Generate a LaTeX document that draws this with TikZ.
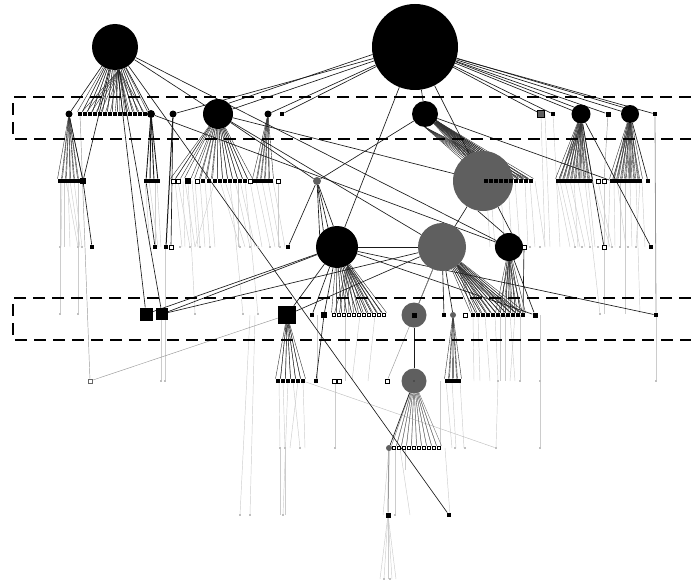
\documentclass[tikz,border=0pt]{standalone}
\pgfdeclarelayer{bg}\pgfdeclarelayer{fg}\pgfsetlayers{bg,main,fg}
\definecolor{ng}{RGB}{95,95,95}
\begin{document}
\begin{tikzpicture}[x=1pt,y=-1pt,
  bc/.style={circle, fill=black, inner sep=0pt, minimum size=#1},
  gc/.style={circle, fill=ng, inner sep=0pt, minimum size=#1},
  sq/.style={rectangle, fill=black, inner sep=0pt, minimum size=#1}, sq/.default=4.5pt,
  osq/.style={rectangle, draw=black, fill=white, line width=0.9pt, inner sep=0pt, minimum size=#1}, osq/.default=4pt,
  bsq/.style={rectangle, draw=black, fill=white, line width=1.5pt, inner sep=0pt, minimum size=3.4pt},
  gsq/.style={rectangle, draw=black, fill=ng, line width=0.5pt, inner sep=0pt, minimum size=7pt},
  fd/.style={rectangle, fill=black!25, inner sep=0pt, minimum size=2.5pt},
  ln/.style={draw=black!90, line width=0.65pt},
  fan/.style={draw=black!80, line width=0.4pt},
  gfan/.style={draw=black!55, line width=0.4pt},
  mid/.style={draw=black!40, line width=0.45pt},
  faint/.style={draw=black!20, line width=0.45pt},
  boxline/.style={draw=black, line width=2.2pt, dash pattern=on 12pt off 7pt}]
\useasboundingbox (0,0) rectangle (691,586);
% ---------- top ----------
\node[bc=46pt] (A) at (115,47) {};
\node[bc=86pt] (B) at (415,47) {};
% ---------- row 1 ----------
\node[bc=7pt] (c69) at (69,114) {};
\foreach \x [count=\i] in {80,85,...,145} \node[sq] (a\i) at (\x,114) {};
\node[bc=8pt] (c152) at (151,114) {};
\node[bc=7pt] (c173) at (173,114) {};
\node[bc=30pt] (C) at (218,114) {};
\node[bc=7pt] (c268) at (268,114) {};
\node[sq] (s282) at (282,114) {};
\node[bc=26pt] (D) at (425,114) {};
\node[gsq] (g541) at (541,114) {};
\node[sq] (s553) at (553,114) {};
\node[bc=19pt] (E) at (581,114) {};
\node[sq=5pt] (s608) at (608,114) {};
\node[bc=18pt] (F) at (630,114) {};
\node[sq] (s655) at (655,114) {};
% ---------- row 2 ----------
\foreach \x [count=\i] in {60,64,...,80} \node[sq] (p\i) at (\x,181) {};
\node[sq=5.5pt] (s82) at (83,181) {};
\foreach \x [count=\i] in {146,150,154,158} \node[sq] (q\i) at (\x,181) {};
\node[osq] (k1) at (173,181) {};
\node[osq] (k2) at (178,181) {};
\node[sq=6pt] (k3) at (188,181) {};
\node[osq] (k4) at (197,181) {};
\node[sq] (k5) at (203,181) {};
\node[sq] (k6) at (209,181) {};
\foreach \x [count=\i from 7] in {215,220,...,240} \node[sq] (k\i) at (\x,181) {};
\node[sq] (k13) at (245,181) {};
\node[osq] (k14) at (250,181) {};
\foreach \x [count=\i] in {255,259,...,271} \node[sq] (m\i) at (\x,181) {};
\node[osq] (m6) at (278,181) {};
\node[gc=60pt] (G) at (483,181) {};
\foreach \x [count=\i] in {486,491,...,531} \node[sq] (g\i) at (\x,181) {};
\node[gc=8pt] (h316) at (317,181) {};
\foreach \x [count=\i] in {558,562,...,590} \node[sq] (e\i) at (\x,181) {};
\node[osq] (e10) at (598,181) {};
\node[osq] (e11) at (604,181) {};
\foreach \x [count=\i] in {612,616,...,640} \node[sq] (f\i) at (\x,181) {};
\node[sq] (s648) at (648,181) {};
% ---------- row 3 ----------
\node[sq] (s92) at (92,247) {};
\node[sq] (s155) at (155,247) {};
\node[sq] (s165) at (166,247) {};
\node[osq] (o170) at (171,247) {};
\node[sq] (s288) at (288,247) {};
\node[bc=42pt] (H) at (337,247) {};
\node[gc=48pt] (I) at (442,247) {};
\node[bc=28pt] (J) at (509,247) {};
\node[osq] (o523) at (524,247) {};
\node[osq] (o604) at (604,247) {};
\node[sq] (s651) at (651,247) {};
% ---------- row 4 ----------
\node[sq=13pt] (b146) at (146,314) {};
\node[sq=12pt] (b162) at (162,314) {};
\node[sq=18pt] (b287) at (287,315) {};
\node[sq] (s312) at (312,315) {};
\node[sq=6pt] (s324) at (324,315) {};
\foreach \x [count=\i] in {334,339,...,384} \node[bsq] (h\i) at (\x,315) {};
\node[gc=25pt] (K) at (414,315) {};
\node[sq=5pt] (kk) at (414,315) {};
\node[sq] (s444) at (444,315) {};
\node[gc=6pt] (g453) at (453,315) {};
\node[osq] (o465) at (465,315) {};
\foreach \x [count=\i] in {473,478,...,523} \node[sq] (i\i) at (\x,315) {};
\node[sq=5pt] (s535) at (535,315) {};
\node[sq] (s656) at (656,315) {};
% ---------- row 5 ----------
\node[osq, draw=black!60, line width=0.6pt] (o90) at (90,381) {};
\foreach \x [count=\i] in {278,283,...,303} \node[sq] (r\i) at (\x,381) {};
\node[sq] (s316) at (316,381) {};
\node[osq] (o334) at (334,381) {};
\node[osq] (o339) at (339,381) {};
\node[osq] (o387) at (387,381) {};
\node[gc=25pt] (L) at (414,381) {};
\node[sq=2pt, fill=black!70] (lc) at (414,381) {};
\foreach \x [count=\i] in {447,451,455,459} \node[sq] (n\i) at (\x,381) {};
% ---------- row 6 ----------
\node[gc=6pt] (g389) at (389,448) {};
\foreach \x [count=\i] in {394,399,...,439} \node[bsq] (l\i) at (\x,448) {};
% ---------- row 7 / 8 ----------
\node[sq=5pt] (s388) at (388,515) {};
\node[sq] (s449) at (449,515) {};
% ---------- faint dots ----------
\foreach \x/\y [count=\i] in {60/247,78/247,82/247,180/247,190/247,200/247,210/247,240/247,250/247,258/247,270/247,
  280/247,530/247,540/247,575/247,582/247,590/247,598/247,612/247,620/247,628/247,636/247,
  60/314,78/314,195/314,243/314,258/314,600/314,
  161/381,165/381,498/381,520/381,540/381,656/381,
  280/448,285/448,300/448,335/448,455/448,465/448,496/448,540/448,
  240/515,250/515,283/515,395/515,384/579,390/579}
  \node[fd] (fd\i) at (\x,\y) {};
% ---------- connectors ----------
\begin{pgfonlayer}{bg}
\foreach \xa/\ya/\xb/\yb [count=\i] in {60/181/60/314,62/181/61/247,66/181/78/247,70/181/80/247,74/181/82/247,78/181/78/314,
  145/181/150/247,149/181/158/247,157/181/161/247,161/320/161/381,165/320/165/381,165/247/165/314,
  175/181/182/247,178/181/190/247,185/181/195/247,188/181/195/314,195/181/200/247,200/181/205/247,205/181/210/247,
  210/181/215/247,215/181/195/247,220/181/240/247,225/181/245/247,230/181/243/314,235/181/250/247,240/181/255/247,
  245/181/258/314,250/181/262/247,256/181/270/247,262/181/275/247,268/181/280/247,273/181/285/247,278/181/278/247,
  541/114/545/247,545/114/550/247,553/114/560/247,486/181/490/247,500/181/505/247,515/181/520/247,530/181/535/247,
  535/181/545/247,560/181/575/247,565/181/580/247,570/181/585/247,578/181/590/247,585/181/600/314,592/181/610/247,
  598/181/612/247,604/181/604/314,614/181/615/247,620/181/620/247,625/181/625/314,630/181/632/247,636/181/640/314,
  642/181/645/247,
  317/315/317/381,345/315/345/381,360/315/352/381,375/315/368/381,473/315/474/381,485/315/490/381,495/315/498/381,
  500/315/500/381,510/315/515/381,520/315/520/381,540/315/540/381,656/315/656/381,
  279/381/280/448,283/381/285/448,288/381/283/515,293/381/300/448,298/381/290/448,303/381/305/448,335/381/335/448,
  446/381/452/448,452/381/456/448,460/381/464/448,498/381/496/448,540/381/540/448,
  280/448/280/515,285/448/285/515,389/448/383/515,395/448/395/515,400/448/410/515,405/448/405/470,
  388/515/380/579,388/515/384/579,388/515/388/579,388/515/392/579,388/515/396/579,
  250/315/240/515,255/315/250/515,
  64/181/64/247,68/181/70/247,155/181/155/247,183/181/185/247,192/181/198/247,238/181/238/247,
  490/181/495/247,508/181/512/247,525/181/528/247,557/181/570/247,574/181/578/247,588/181/595/247,
  610/181/608/247,617/181/626/247,640/181/636/247,478/315/480/381,505/315/505/381,515/315/510/381,
  440/381/440/448,445/448/450/515}
{\coordinate (fa\i) at (\xa,\ya); \coordinate (fb\i) at (\xb,\yb); \draw[faint] (fa\i) -- (fb\i);}
\draw[mid] (o90) -- (b287);
\draw[mid] (o90) -- (a1);
\draw[faint, draw=black!25] (r6) -- (fd41);
% fans
\foreach \i in {1,...,14} {\draw[fan] (A) -- (a\i.north west); \draw[fan] (A) -- (a\i.north east); \draw[fan] (A.-80) -- (a\i);}
\draw[ln] (A) -- (c69); \draw[ln] (A) -- (c152);
\foreach \i in {1,...,6} {\draw[fan] (c69) -- (p\i.north west); \draw[fan] (c69) -- (p\i.north east);}
\draw[ln] (c69) -- (s82);
\foreach \i in {1,...,4} {\draw[ln, line width=0.9pt] (c152) -- (q\i);}
\foreach \i in {1,...,14} {\draw[fan] (C) -- (k\i.north west); \draw[fan] (C) -- (k\i.north east);}
\foreach \i in {1,...,5} {\draw[fan] (c268) -- (m\i.north west); \draw[fan] (c268) -- (m\i.north east);}
\foreach \i in {1,...,10} {\draw[fan] (D) -- (g\i.north west); \draw[fan] (D) -- (g\i.north east); \draw[fan] (D.south) -- (g\i); \draw[fan] (D.-30) -- (g\i);}
\foreach \i in {1,...,9} {\draw[fan] (E) -- (e\i.north west); \draw[fan] (E) -- (e\i.north east); \draw[fan] (E.south) -- (e\i);}
\foreach \i in {1,...,8} {\draw[fan] (F) -- (f\i.north west); \draw[fan] (F) -- (f\i.north east); \draw[fan] (F.south) -- (f\i);}
\foreach \a in {100,115,130,145} \draw[ln] (h316) -- (H.\a);
\foreach \i in {1,...,11} {\draw[fan] (H) -- (h\i.north west); \draw[fan] (H) -- (h\i.north east); \draw[fan] (H.-60) -- (h\i);}
\foreach \i in {1,...,11} {\draw[fan] (I) -- (i\i.north west); \draw[fan] (I) -- (i\i.north east); \draw[fan] (I.-50) -- (i\i);}
\foreach \i in {6,...,11} {\draw[fan] (J) -- (i\i.north west); \draw[fan] (J) -- (i\i.north east); \draw[fan] (J.south) -- (i\i);}
\foreach \i in {1,...,6} {\draw[fan] (b287) -- (r\i.north west); \draw[fan] (b287) -- (r\i.north east);}
\foreach \i in {1,...,4} {\draw[fan] (g453) -- (n\i.north west); \draw[fan] (g453) -- (n\i.north east);}
\foreach \i in {1,...,10} {\draw[gfan] (L) -- (l\i.north west); \draw[gfan] (L) -- (l\i.north east);}
\draw[ln] (L) -- (g389);
% long connectors
\draw[ln] (A) -- (C); \draw[ln] (A) -- (J); \draw[ln] (A) -- (s82);
\draw[ln] (A) -- (b146); \draw[ln] (A) -- (b162); \draw[ln] (A) -- (s449);
\foreach \t in {c173,C,c268,s282,D,H,G,g541,s553,E,s608,F,s655} \draw[ln] (B) -- (\t);
\draw[ln] (B.-20) -- (E.north west); \draw[ln] (B.-15) -- (F.north west); \draw[ln] (B.190) -- (C.north east);
\draw[ln] (C) -- (I); \draw[ln] (C) -- (G); \draw[ln] (C) -- (h316); \draw[ln] (c152) -- (J);
\draw[ln] (D) -- (h316); \draw[ln] (D) -- (f1);
\draw[ln] (h316) -- (s288);
\draw[ln, line width=1pt] (c173) -- (s165); \draw[ln] (c173) -- (o170);
\draw[ln] (q1) -- (s155); \draw[ln] (s82) -- (s92);
\draw[ln] (b146) -- (H); \draw[ln] (b162) -- (H); \draw[ln] (b162) -- (I);
\draw[ln] (H) -- (b287); \draw[ln] (I) -- (b287); \draw[ln] (H) -- (s535); \draw[ln] (H) -- (s656);
\draw[ln] (H) -- (I); \draw[ln] (H) -- (s312); \draw[ln] (H) -- (s324);
\draw[ln] (G) -- (I); \draw[ln] (G.-100) -- (J.110); \draw[ln] (G.-60) -- (J.80);
\draw[ln] (J) -- (s535); \draw[ln] (o523) -- (i11);
\draw[ln] (E) -- (s651); \draw[ln] (E) -- (o604); \draw[ln] (F) -- (s648);
\draw[mid, line width=0.8pt] (s655) -- (s656); \draw[mid] (s608) -- (e11);
\draw[ln] (s324) -- (s316); \draw[ln] (K) -- (L); \draw[ln] (K) -- (I);
\draw[ln] (I) -- (s444); \draw[ln] (I) -- (g453); \draw[mid] (I) -- (o387);
\draw[mid, line width=1pt] (g389) -- (s388);
\end{pgfonlayer}
% ---------- dashed boxes ----------
\begin{pgfonlayer}{fg}
\draw[boxline] (691,97) -- (13,97) -- (13,139) -- (691,139);
\draw[boxline] (691,298) -- (13,298) -- (13,340) -- (691,340);
\end{pgfonlayer}
\end{tikzpicture}
\end{document}
